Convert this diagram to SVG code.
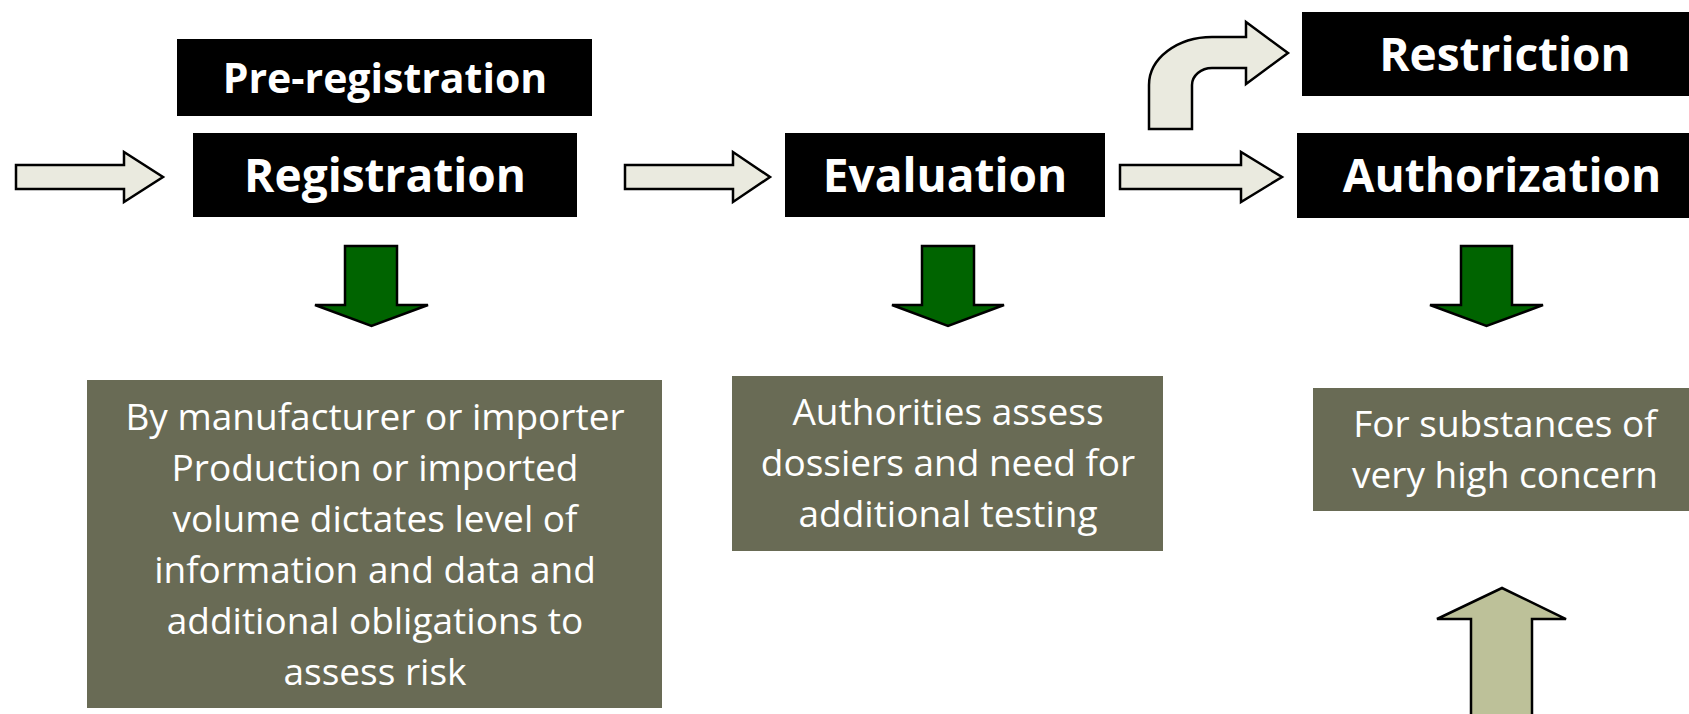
<svg xmlns="http://www.w3.org/2000/svg" width="1689" height="714" viewBox="0 0 1689 714">
  <style>
    .hdr { fill: #000000; }
    .hdr-t { font-family: "Open Sans", "Liberation Sans", sans-serif; font-weight: 700; font-size: 46px; fill: #ffffff; text-anchor: middle; }
    .note { fill: #696B55; }
    .note-t { font-family: "Open Sans", "Liberation Sans", sans-serif; font-size: 37px; fill: #ffffff; text-anchor: middle; }
    .flow { fill: #EAEADF; stroke: #000000; stroke-width: 2.5; stroke-linejoin: miter; }
    .down { fill: #006400; stroke: #000000; stroke-width: 2.5; }
    .up { fill: #BDC199; stroke: #000000; stroke-width: 2.5; }
  </style>

  <rect width="1689" height="714" fill="#ffffff"/>

  <!-- process steps -->
  <g id="pre-registration">
    <rect class="hdr" x="177" y="39" width="415" height="77"/>
    <text class="hdr-t" x="385" y="93" style="font-size:41px">Pre-registration</text>
  </g>
  <g id="registration">
    <rect class="hdr" x="193" y="133" width="384" height="84"/>
    <text class="hdr-t" x="385" y="192">Registration</text>
  </g>
  <g id="evaluation">
    <rect class="hdr" x="785" y="133" width="320" height="84"/>
    <text class="hdr-t" x="945" y="192">Evaluation</text>
  </g>
  <g id="restriction">
    <rect class="hdr" x="1302" y="12" width="387" height="84"/>
    <text class="hdr-t" x="1505" y="71">Restriction</text>
  </g>
  <g id="authorization">
    <rect class="hdr" x="1297" y="133" width="392" height="85"/>
    <text class="hdr-t" x="1502" y="192">Authorization</text>
  </g>

  <!-- descriptions -->
  <g id="registration-note">
    <rect class="note" x="87" y="380" width="575" height="328"/>
    <text class="note-t" x="375" y="430">By manufacturer or importer</text>
    <text class="note-t" x="375" y="481">Production or imported</text>
    <text class="note-t" x="375" y="532">volume dictates level of</text>
    <text class="note-t" x="375" y="583">information and data and</text>
    <text class="note-t" x="375" y="634">additional obligations to</text>
    <text class="note-t" x="375" y="685">assess risk</text>
  </g>
  <g id="evaluation-note">
    <rect class="note" x="732" y="376" width="431" height="175"/>
    <text class="note-t" x="948" y="425">Authorities assess</text>
    <text class="note-t" x="948" y="476">dossiers and need for</text>
    <text class="note-t" x="948" y="527">additional testing</text>
  </g>
  <g id="authorization-note">
    <rect class="note" x="1313" y="388" width="376" height="123"/>
    <text class="note-t" x="1505" y="437">For substances of</text>
    <text class="note-t" x="1505" y="488">very high concern</text>
  </g>

  <!-- connectors -->
  <g id="connectors">
    <path class="flow" d="M16,165 H124 V152 L163,177 L124,202 V189 H16 Z"/>
    <path class="flow" d="M625,165 H733 V152 L770,177 L733,202 V189 H625 Z"/>
    <path class="flow" d="M1120,165 H1241 V152 L1282,177 L1241,202 V189 H1120 Z"/>
    <path class="flow" d="M1149,129 V85 A63,48 0 0 1 1212,37 H1246 V22 L1288,53 L1246,84 V68 H1212 A20,17 0 0 0 1192,85 V129 Z"/>
    <path class="down" d="M345,246 H397 V305 H428 L371.5,326 L315,305 H345 Z"/>
    <path class="down" d="M922,246 H974 V305 H1004 L948,326 L892,305 H922 Z"/>
    <path class="down" d="M1461,246 H1512 V305 H1543 L1486.5,326 L1430,305 H1461 Z"/>
    <path class="up" d="M1471,716 V619 H1437 L1502,588 L1566,619 H1532 V716 Z"/>
  </g>
</svg>
